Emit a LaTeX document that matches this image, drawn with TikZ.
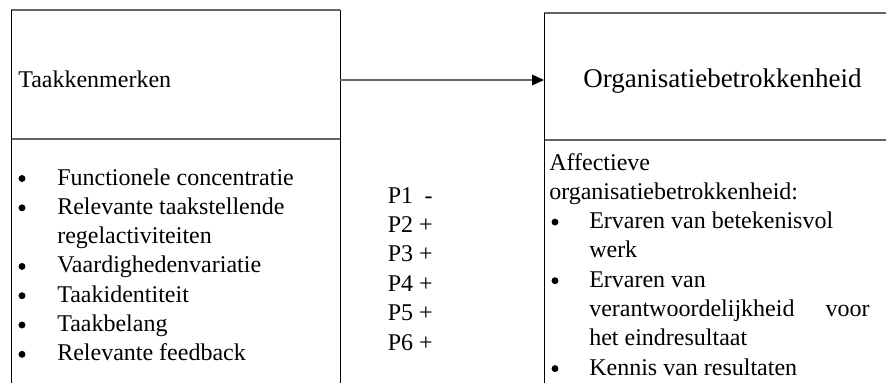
\documentclass[tikz,border=0pt]{standalone}
\usepackage{fontspec}
\setmainfont{Liberation Serif}
\usetikzlibrary{arrows.meta}

\begin{document}
\begin{tikzpicture}[%
        x=0.75pt,y=-0.75pt,
        vline/.style={black,line width=0.75pt},
        hline/.style={black!60,line width=1pt},
        txt/.style={anchor=base west,inner sep=0pt,font=\fontsize{18}{22}\selectfont},
        txtr/.style={txt,anchor=base east},
        title/.style={txt,font=\fontsize{20.25}{24}\selectfont},
        dot/.style={circle,fill=black,inner sep=0pt,minimum size=5.2pt}
      ]
      \useasboundingbox (0,0) rectangle (886,383);

      % box corners
      \coordinate (taak_tl) at (11,10);
      \coordinate (taak_tr) at (340,10);
      \coordinate (taak_ml) at (11,139);
      \coordinate (taak_mr) at (340,139);
      \coordinate (taak_bl) at (11,383);
      \coordinate (taak_br) at (340,383);
      \coordinate (org_tl) at (544,13);
      \coordinate (org_tr) at (886,13);
      \coordinate (org_ml) at (544,140);
      \coordinate (org_mr) at (886,140);
      \coordinate (org_bl) at (544,383);
      % arrow ends
      \coordinate (taak_out) at (340,80);
      \coordinate (org_in) at (544,80);

      % left box
      \draw[hline] (taak_tl) -- (taak_tr);
      \draw[hline] (taak_ml) -- (taak_mr);
      \draw[vline] (taak_tl) -- (taak_bl);
      \draw[vline] (taak_tr) -- (taak_br);
      % right box
      \draw[hline] (org_tl) -- (org_tr);
      \draw[hline] (org_ml) -- (org_mr);
      \draw[vline] (org_tl) -- (org_bl);

      % titles
      \node[txt] (taak_title) at (18,87) {Taakkenmerken};
      \node[title] (org_title) at (583,87) {Organisatiebetrokkenheid};

      % connector
      \draw[hline,-{Triangle[length=9pt,width=8pt,color=black]}] (taak_out) -- (org_in);

      % task characteristics
      \foreach \item [count=\i] in {Functionele concentratie,Relevante taakstellende,
          regelactiviteiten,Vaardighedenvariatie,Taakidentiteit,Taakbelang,Relevante feedback}
        \node[txt] (taak_item\i) at (57,{185+29.3*(\i-1)}) {\item};
      \foreach \i in {1,2,4,5,6,7}
        \node[dot] (taak_dot\i) at (22,{178.5+29.3*(\i-1)}) {};

      % propositions
      \foreach \sign [count=\i] in {\makebox[0.564em][r]{-},+,+,+,+,+}
        \node[txt] (p\i) at (387.5,{203+29.4*(\i-1)}) {P\i\ \sign};

      % commitment
      \node[txt] (org_head1) at (549,170) {Affectieve};
      \node[txt] (org_head2) at (549,199.3) {organisatiebetrokkenheid:};
      \foreach \item [count=\i] in {Ervaren van betekenisvol,werk,Ervaren van,
          verantwoordelijkheid,het eindresultaat,Kennis van resultaten}
        \node[txt] (org_item\i) at (589,{228.6+29.3*(\i-1)}) {\item};
      \node[txtr] (org_voor) at (870,316.5) {voor};
      \foreach \i in {1,3,6}
        \node[dot] (org_dot\i) at (555,{222.1+29.3*(\i-1)}) {};

    \end{tikzpicture}
\end{document}
